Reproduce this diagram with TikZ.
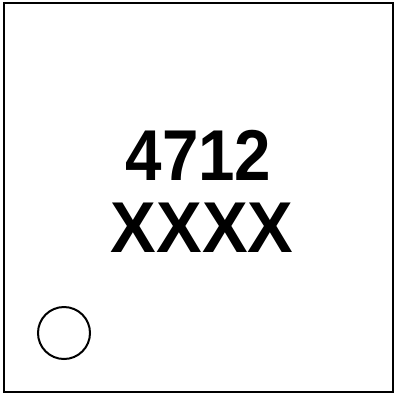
\documentclass[tikz,border=0pt]{standalone}
\usepackage{fontspec}
\setmainfont{Liberation Sans}
\usetikzlibrary{positioning}
\tikzset{
  marking/.style={font=\bfseries\fontsize{72}{72}\selectfont, inner sep=0pt, anchor=base},
  outline/.style={draw=black, line width=2pt}
}

\begin{document}
\begin{tikzpicture}[x=1pt, y=-1pt]
    \useasboundingbox (0,0) rectangle (395,394);

    % package body
    \node[outline, minimum width=389pt, minimum height=389pt, inner sep=0pt] (body) at (198.5,197.5) {};

    % part number and date code
    \node[marking] (partno) at (198.5,180) {\scalebox{0.91}[1]{4712}};
    \node[marking] (datecode) at (202,252) {\scalebox{0.95}[1]{XXXX}};

    % pin 1 dot
    \node[outline, circle, minimum size=52pt, inner sep=0pt] (pinone) at (64,333) {};
  \end{tikzpicture}
\end{document}
